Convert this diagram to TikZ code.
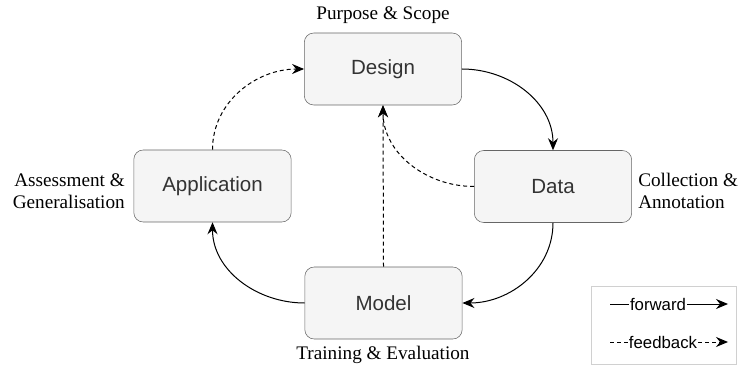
\documentclass[tikz,border=0pt]{standalone}
\usepackage{fontspec}
\usepackage{xcolor}
\setmainfont{Liberation Serif}
\setsansfont{Liberation Sans}
\usetikzlibrary{arrows.meta}

\definecolor{boxfill}{HTML}{F5F5F5}
\definecolor{boxline}{HTML}{666666}
\definecolor{boxtext}{HTML}{333333}
\definecolor{legline}{HTML}{D0D0D0}

\begin{document}
\begin{tikzpicture}[x=0.75pt,y=0.75pt,yscale=-1,xscale=1,
  stage/.style={draw=boxline,fill=boxfill,rounded corners=7pt,minimum width=118pt,minimum height=54pt,font=\sffamily\fontsize{15.4}{18}\selectfont,text=boxtext},
  note/.style={font=\fontsize{14.4}{16.5}\selectfont,inner sep=0.75pt},
  legtext/.style={font=\sffamily\fontsize{12.6}{15}\selectfont,inner sep=0.75pt},
  fwdline/.style={line width=0.75pt,-{Stealth[length=9pt,width=7.5pt,inset=3pt]}},
  fbline/.style={fwdline,dash pattern=on 3pt off 2.25pt}]

\useasboundingbox (0,0) rectangle (738,370);

% stages
\draw (383,69) node [stage] (design) {Design};
\draw (553,186.5) node [stage] (data) {Data};
\draw (383.5,303) node [stage] (model) {Model};
\draw (212.5,186) node [stage] (application) {Application};

% notes
\draw (383,15) node [note] (purpose) {Purpose \& Scope};
\draw (637,191) node [note,anchor=west,align=left] (collection) {Collection \&\\Annotation};
\draw (383,355) node [note] (training) {Training \& Evaluation};
\draw (126,191) node [note,anchor=east,align=right] (assessment) {Assessment \&\\Generalisation};

% forward (y is flipped, so the angles are too)
\draw [fwdline] (design.east) to [out=0,in=-90] (data.north);
\draw [fwdline] (data.south) to [out=90,in=0] (model.east);
\draw [fwdline] (model.west) to [out=180,in=90] (application.south);

% feedback
\draw [fbline] (application.north) to [out=-90,in=180] (design.west);
\draw [fbline] (data.west) to [out=180,in=90] (design.south);
\draw [fbline] (model.north) -- (design.south);

% legend
\draw (663.5,325) node [draw=legline,minimum width=108.75pt,minimum height=58.5pt] (legend) {};
\draw (658,304) node [legtext] (fwd) {forward};
\coordinate (fwdstart) at (610,304);
\coordinate (fwdend) at (728,304);
\draw [line width=0.75pt] (fwdstart) -- (fwd.west);
\draw [fwdline] (fwd.east) -- (fwdend);
\draw (663,342) node [legtext] (fb) {feedback};
\coordinate (fbstart) at (610,342);
\coordinate (fbend) at (728,342);
\draw [line width=0.75pt,dash pattern=on 3pt off 2.25pt] (fbstart) -- (fb.west);
\draw [fbline] (fb.east) -- (fbend);

\end{tikzpicture}
\end{document}
